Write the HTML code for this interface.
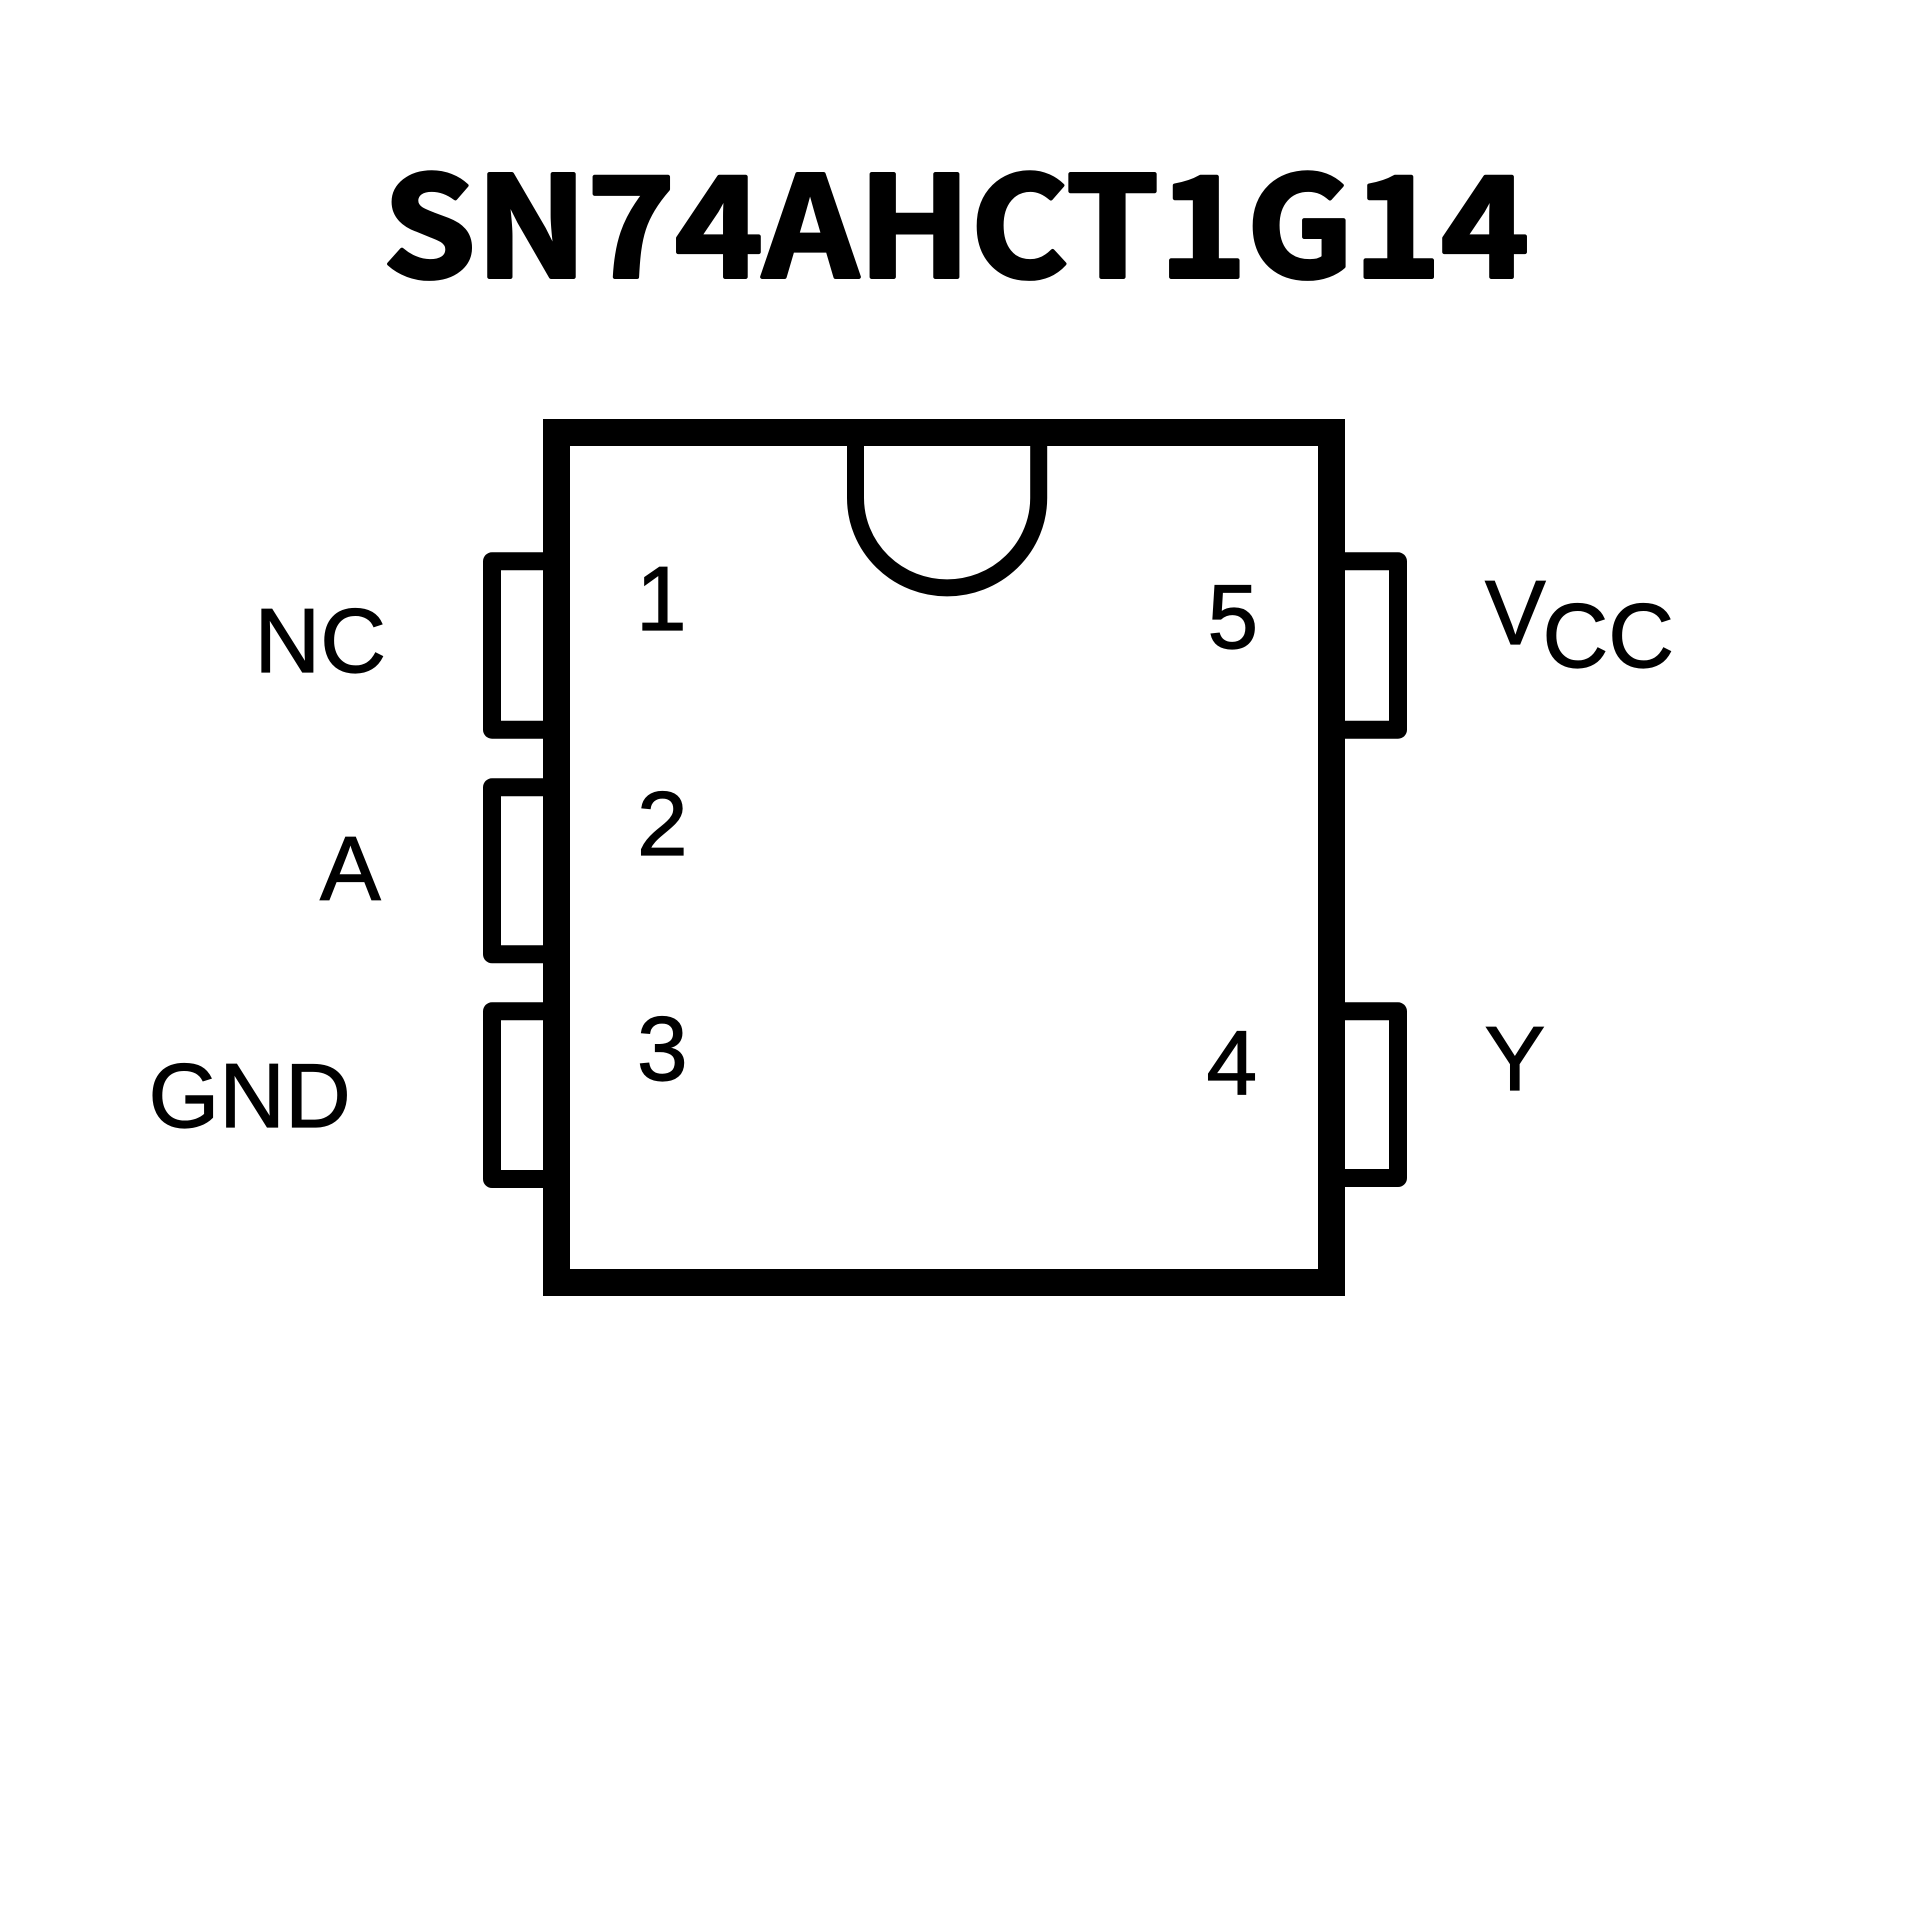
<!DOCTYPE html>
<html>
<head>
<meta charset="utf-8">
<style>
  html, body { margin: 0; padding: 0; background: #ffffff; }
  body { width: 1920px; height: 1920px; overflow: hidden; }
  svg { display: block; }
  .lbl { font-family: "Liberation Sans", Arial, sans-serif; font-size: 91px; fill: #000; stroke: #000; stroke-width: 1.2; }
  .title { font-family: "Noto Sans CJK SC", "Liberation Sans", sans-serif; font-weight: 700; font-size: 139px; fill: #000; stroke: #000; stroke-width: 4; stroke-linejoin: round; }
</style>
</head>
<body>
<svg width="1920" height="1920" viewBox="0 0 1920 1920" xmlns="http://www.w3.org/2000/svg">
  <rect x="0" y="0" width="1920" height="1920" fill="#ffffff"/>

  <!-- Title -->
  <text class="title" x="383" y="277" textLength="1146" lengthAdjust="spacingAndGlyphs">SN74AHCT1G14</text>

  <!-- Package body -->
  <rect x="556.5" y="432.5" width="775" height="850" fill="none" stroke="#000" stroke-width="27"/>

  <!-- Notch -->
  <path d="M 855.5 446 V 498 A 91.6 90 0 0 0 1038.7 498 V 446" fill="none" stroke="#000" stroke-width="17"/>

  <!-- Left pins -->
  <path d="M 543 561.3 H 492 V 729.7 H 543" fill="none" stroke="#000" stroke-width="18" stroke-linejoin="round"/>
  <path d="M 543 787.3 H 492 V 954.3 H 543" fill="none" stroke="#000" stroke-width="18" stroke-linejoin="round"/>
  <path d="M 543 1011.3 H 492 V 1179 H 543" fill="none" stroke="#000" stroke-width="18" stroke-linejoin="round"/>

  <!-- Right pins -->
  <path d="M 1345 561.3 H 1398 V 729.7 H 1345" fill="none" stroke="#000" stroke-width="18" stroke-linejoin="round"/>
  <path d="M 1345 1011.3 H 1398 V 1178 H 1345" fill="none" stroke="#000" stroke-width="18" stroke-linejoin="round"/>

  <!-- Pin numbers -->
  <text class="lbl" x="636" y="630">1</text>
  <text class="lbl" x="637" y="855">2</text>
  <text class="lbl" x="637" y="1080">3</text>
  <text class="lbl" x="1207.5" y="648">5</text>
  <text class="lbl" x="1206.5" y="1094">4</text>

  <!-- Pin names -->
  <text class="lbl" x="254.5" y="672">NC</text>
  <text class="lbl" x="320" y="900">A</text>
  <text class="lbl" x="148.5" y="1127">GND</text>
  <text class="lbl" x="1485" y="644">V</text>
  <text class="lbl" x="1542.5" y="667">CC</text>
  <text class="lbl" x="1484.5" y="1090">Y</text>
</svg>
</body>
</html>
